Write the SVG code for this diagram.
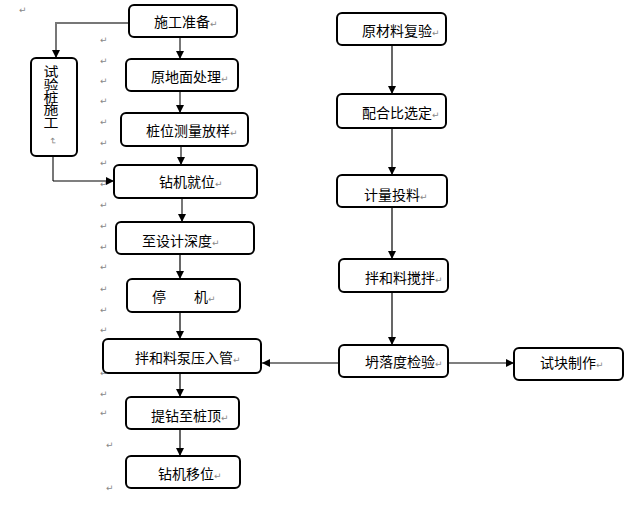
<svg xmlns="http://www.w3.org/2000/svg" width="630" height="522" viewBox="0 0 630 522">
<style>
.box{fill:#fff;stroke:#000;stroke-width:2}
.t{font-family:"Noto Sans CJK SC","Liberation Sans",sans-serif;font-size:14px;fill:#000}
.v{font-family:"Noto Sans CJK SC","Liberation Sans",sans-serif;font-size:13px;fill:#000;writing-mode:vertical-rl;text-orientation:upright;letter-spacing:-0.4px}
.pm{font-family:"DejaVu Sans",sans-serif;font-size:9px;fill:#888}
.g{stroke:#777;stroke-width:2;fill:none}
.k{stroke:#000;stroke-width:1.2;fill:none}
</style>
<defs>
<marker id="ah" viewBox="0 0 10 10" refX="10" refY="5" markerWidth="8" markerHeight="8" markerUnits="userSpaceOnUse" orient="auto">
<path d="M0,0 L10,5 L0,10 z" fill="#000"/>
</marker>
</defs>
<rect width="630" height="522" fill="#fff"/>
<g id="marks">
<text class="pm" x="19" y="13">↵</text>
<text class="pm" x="100" y="43">↵</text>
<text class="pm" x="100" y="64">↵</text>
<text class="pm" x="100" y="84">↵</text>
<text class="pm" x="100" y="104">↵</text>
<text class="pm" x="100" y="125">↵</text>
<text class="pm" x="100" y="146">↵</text>
<text class="pm" x="100" y="166">↵</text>
<text class="pm" x="100" y="187">↵</text>
<text class="pm" x="100" y="208">↵</text>
<text class="pm" x="100" y="229">↵</text>
<text class="pm" x="100" y="250">↵</text>
<text class="pm" x="100" y="270">↵</text>
<text class="pm" x="100" y="292">↵</text>
<text class="pm" x="100" y="313">↵</text>
<text class="pm" x="100" y="333">↵</text>
<text class="pm" x="100" y="376">↵</text>
<text class="pm" x="100" y="397">↵</text>
<text class="pm" x="100" y="416">↵</text>
<text class="pm" x="106" y="448">↵</text>
<text class="pm" x="106" y="491">↵</text>
</g>
<g id="connectors">
<path class="g" d="M129,23 H56 V50"/>
<path class="k" d="M56,50 V58" marker-end="url(#ah)"/>
<path class="g" d="M180,37 V51"/><path class="k" d="M180,51 V59" marker-end="url(#ah)"/>
<path class="g" d="M180,91 V105"/><path class="k" d="M180,105 V113" marker-end="url(#ah)"/>
<path class="g" d="M181,146 V157"/><path class="k" d="M181,157 V165" marker-end="url(#ah)"/>
<path class="g" d="M53,156 V181"/><path class="k" d="M53,181 H114" marker-end="url(#ah)"/>
<path class="g" d="M182,198 V214"/><path class="k" d="M182,214 V222" marker-end="url(#ah)"/>
<path class="k" d="M180,254 V279" marker-end="url(#ah)"/>
<path class="k" d="M180,312 V339" marker-end="url(#ah)"/>
<path class="k" d="M180,373 V397" marker-end="url(#ah)"/>
<path class="k" d="M180,429 V456" marker-end="url(#ah)"/>
<path class="k" d="M392,45 V94" marker-end="url(#ah)"/>
<path class="k" d="M392,128 V175" marker-end="url(#ah)"/>
<path class="k" d="M392,207 V259" marker-end="url(#ah)"/>
<path class="k" d="M392,292 V345" marker-end="url(#ah)"/>
<path class="k" d="M448,363 H514" marker-end="url(#ah)"/>
<path class="k" d="M339,363 H262" marker-end="url(#ah)"/>
</g>
<g id="n1"><rect class="box" x="129" y="5" width="108" height="32" rx="5"/><text class="t" x="154" y="27">施工准备<tspan class="pm">↵</tspan></text></g>
<g id="n2"><rect class="box" x="126" y="59" width="112" height="32" rx="5"/><text class="t" x="151" y="82">原地面处理<tspan class="pm">↵</tspan></text></g>
<g id="n3"><rect class="box" x="121" y="113" width="127" height="33" rx="5"/><text class="t" x="146" y="136">桩位测量放样<tspan class="pm">↵</tspan></text></g>
<g id="n4"><rect class="box" x="31" y="58" width="46" height="98" rx="5"/>
<text class="v" transform="translate(51,0) scale(1.15,1)" x="0" y="65">试验桩施工</text>
<text class="pm" transform="translate(50,141) rotate(90)" text-anchor="middle">↵</text></g>
<g id="n5"><rect class="box" x="114" y="165" width="143" height="33" rx="5"/><text class="t" x="159" y="187">钻机就位<tspan class="pm">↵</tspan></text></g>
<g id="n6"><rect class="box" x="116" y="222" width="138" height="32" rx="5"/><text class="t" x="142" y="246">至设计深度<tspan class="pm">↵</tspan></text></g>
<g id="n7"><rect class="box" x="127" y="279" width="113" height="33" rx="5"/><text class="t" x="152" y="302">停</text><text class="t" x="194" y="302">机<tspan class="pm">↵</tspan></text></g>
<g id="n8"><rect class="box" x="103" y="339" width="158" height="34" rx="5"/><text class="t" x="135" y="363">拌和料泵压入管<tspan class="pm">↵</tspan></text></g>
<g id="n9"><rect class="box" x="126" y="397" width="113" height="32" rx="5"/><text class="t" x="151" y="421">提钻至桩顶<tspan class="pm">↵</tspan></text></g>
<g id="n10"><rect class="box" x="126" y="456" width="114" height="32" rx="5"/><text class="t" x="158" y="479">钻机移位<tspan class="pm">↵</tspan></text></g>
<g id="r1"><rect class="box" x="337" y="13" width="109" height="32" rx="5"/><text class="t" x="362" y="36">原材料复验<tspan class="pm">↵</tspan></text></g>
<g id="r2"><rect class="box" x="337" y="94" width="109" height="34" rx="5"/><text class="t" x="362" y="118">配合比选定<tspan class="pm">↵</tspan></text></g>
<g id="r3"><rect class="box" x="337" y="175" width="110" height="32" rx="5"/><text class="t" x="364" y="200">计量投料<tspan class="pm">↵</tspan></text></g>
<g id="r4"><rect class="box" x="339" y="259" width="109" height="33" rx="5"/><text class="t" x="365" y="283">拌和料搅拌<tspan class="pm">↵</tspan></text></g>
<g id="r5"><rect class="box" x="339" y="345" width="109" height="32" rx="5"/><text class="t" x="365" y="367">坍落度检验<tspan class="pm">↵</tspan></text></g>
<g id="r6"><rect class="box" x="514" y="348" width="109" height="32" rx="5"/><text class="t" x="540" y="368">试块制作<tspan class="pm">↵</tspan></text></g>
</svg>
